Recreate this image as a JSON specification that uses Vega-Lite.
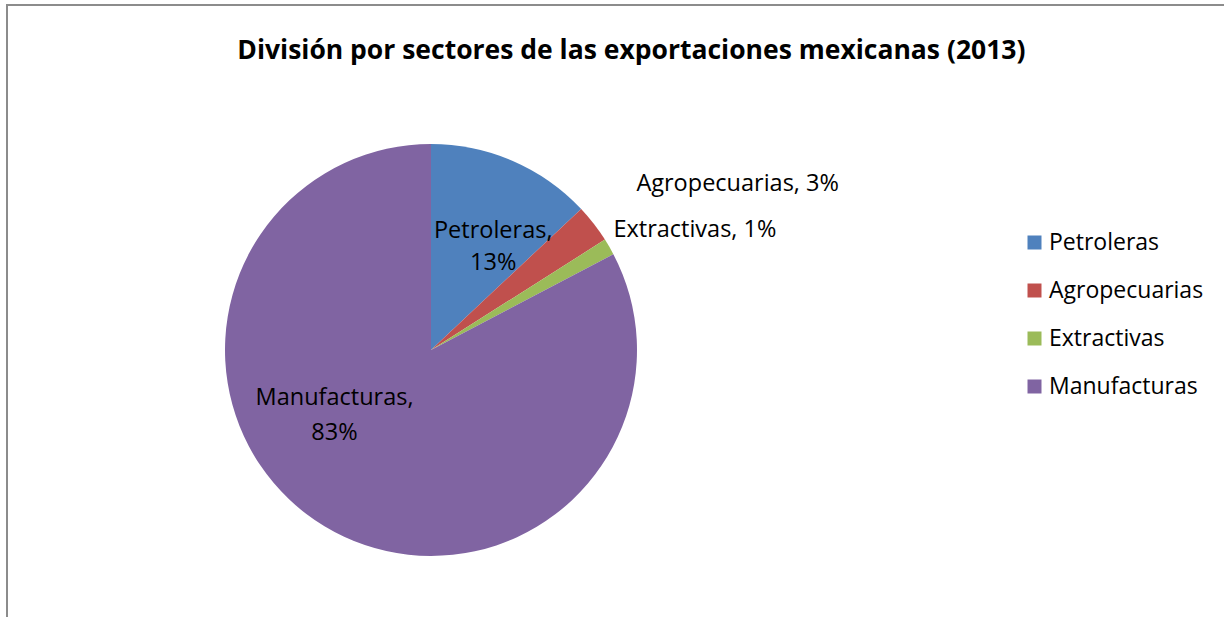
{
  "$schema": "https://vega.github.io/schema/vega-lite/v6.json",
  "width": 1230,
  "height": 622,
  "autosize": {"type": "none"},
  "padding": {"left": 7, "top": 5, "right": 0, "bottom": 0},
  "background": "white",
  "view": {"stroke": "#8c8c8c", "strokeWidth": 2, "fill": null},
  "config": {
    "view": {"stroke": "#8c8c8c", "strokeWidth": 2},
    "font": "Open Sans"
  },
  "title": {
    "text": "División por sectores de las exportaciones mexicanas (2013)",
    "font": "Open Sans",
    "fontWeight": "bold",
    "fontSize": 26.5,
    "color": "#000000",
    "anchor": "start",
    "offset": -62,
    "dx": 233
  },
  "data": {
    "values": [
      {"sector": "Petroleras", "pct": 13.0, "orden": 1, "etiqueta": ["Petroleras,", "13%"]},
      {"sector": "Agropecuarias", "pct": 3.0, "orden": 2, "etiqueta": "Agropecuarias, 3%"},
      {"sector": "Extractivas", "pct": 1.3, "orden": 3, "etiqueta": "Extractivas, 1%"},
      {"sector": "Manufacturas", "pct": 82.7, "orden": 4, "etiqueta": ["Manufacturas,", "83%"]}
    ]
  },
  "encoding": {
    "theta": {"field": "pct", "type": "quantitative", "stack": true},
    "order": {"field": "orden", "type": "quantitative"}
  },
  "layer": [
    {
      "mark": {"type": "point", "opacity": 0},
      "encoding": {
        "theta": null,
        "x": {"datum": 0, "type": "quantitative", "axis": null},
        "y": {"datum": 0, "type": "quantitative", "axis": null}
      }
    },
    {
      "mark": {"type": "arc", "outerRadius": 206, "x": 424, "y": 345},
      "encoding": {
        "color": {
          "field": "sector",
          "type": "nominal",
          "scale": {
            "domain": ["Petroleras", "Agropecuarias", "Extractivas", "Manufacturas"],
            "range": ["#4F81BD", "#C0504D", "#9BBB59", "#8064A2"]
          },
          "legend": {
            "title": null,
            "orient": "none",
            "legendX": 1016,
            "legendY": 226,
            "padding": 0,
            "symbolType": "square",
            "symbolSize": 196,
            "symbolStrokeWidth": 0,
            "labelFont": "Open Sans",
            "labelFontSize": 23,
            "labelColor": "#000000",
            "labelOffset": 3,
            "rowPadding": 24,
            "labelLimit": 300
          }
        }
      }
    },
    {
      "mark": {"type": "text", "x": 424, "y": 345, "radius": 134, "dx": 9, "dy": 4, "fontSize": 23.5, "font": "Open Sans", "color": "#000000", "align": "center", "baseline": "middle", "lineHeight": 32},
      "encoding": {"text": {"condition": {"test": "datum.sector == 'Petroleras'", "field": "etiqueta"}, "value": ""}}
    },
    {
      "mark": {"type": "text", "x": 424, "y": 345, "radius": 115, "dx": -37, "dy": -50, "fontSize": 23.5, "font": "Open Sans", "color": "#000000", "align": "center", "baseline": "middle", "lineHeight": 35},
      "encoding": {"text": {"condition": {"test": "datum.sector == 'Manufacturas'", "field": "etiqueta"}, "value": ""}}
    },
    {
      "mark": {"type": "text", "x": 424, "y": 345, "radius": 265, "dx": -4, "dy": -4, "fontSize": 23.5, "font": "Open Sans", "color": "#000000", "align": "left", "baseline": "middle"},
      "encoding": {"text": {"condition": {"test": "datum.sector == 'Agropecuarias'", "field": "etiqueta"}, "value": ""}}
    },
    {
      "mark": {"type": "text", "x": 424, "y": 345, "radius": 220, "dx": -8, "dy": -10, "fontSize": 23.5, "font": "Open Sans", "color": "#000000", "align": "left", "baseline": "middle"},
      "encoding": {"text": {"condition": {"test": "datum.sector == 'Extractivas'", "field": "etiqueta"}, "value": ""}}
    }
  ]
}
